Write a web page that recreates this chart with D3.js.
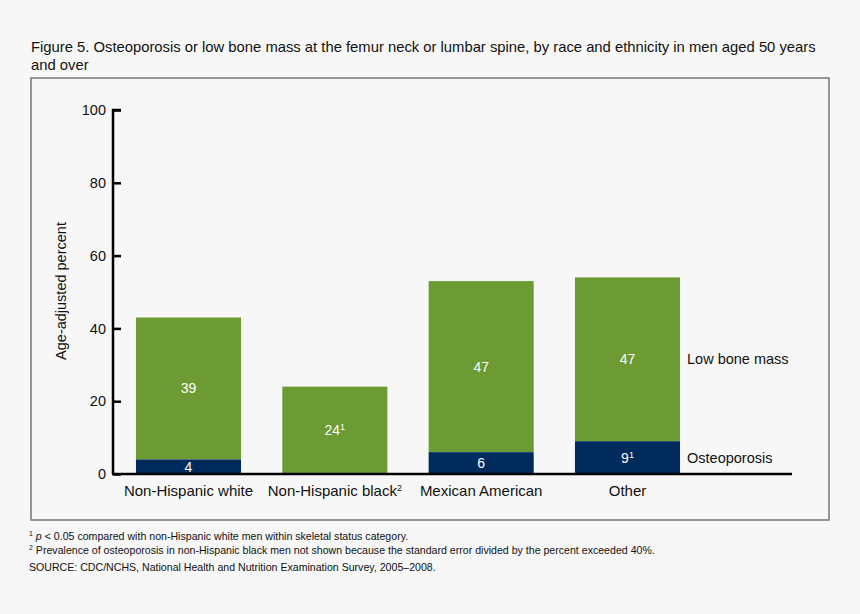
<!DOCTYPE html>
<html>
<head>
<meta charset="utf-8">
<script src="https://cdn.jsdelivr.net/npm/d3@7"></script>
<style>
  body { margin: 0; background: #f7f7f7; font-family: "Liberation Sans", Arial, sans-serif; }
</style>
</head>
<body>
<div id="chart"></div>
<script>
const categories = ['Non-Hispanic white', 'Non-Hispanic black', 'Mexican American', 'Other'];
const categorySup = ['', '2', '', ''];
const osteoporosis = [4, 0, 6, 9];
const lowBoneMass = [39, 24, 47, 45];
const osteoLabels = ['4', '', '6', '9'];
const osteoSup = ['', '', '', '1'];
const lowLabels = ['39', '24', '47', '47'];
const lowSup = ['', '1', '', ''];
const yTicks = [0, 20, 40, 60, 80, 100];
const seriesNames = ['Low bone mass', 'Osteoporosis'];

const width = 860, height = 614;
const green = '#6b9b32', navy = '#002b5c';

const svg = d3.select('#chart').append('svg')
    .attr('width', width).attr('height', height)
    .style('font-family', '"Liberation Sans", Arial, sans-serif');

svg.append('rect').attr('width', width).attr('height', height).attr('fill', '#f7f7f7');

// title
const title = svg.append('text').attr('x', 31).attr('y', 52).attr('font-size', 14.8).attr('fill', '#111');
title.append('tspan').attr('x', 31).text('Figure 5. Osteoporosis or low bone mass at the femur neck or lumbar spine, by race and ethnicity in men aged 50 years');
title.append('tspan').attr('x', 31).attr('dy', 17.5).text('and over');

// frame
svg.append('rect').attr('x', 31).attr('y', 78).attr('width', 798).attr('height', 442)
    .attr('fill', 'none').attr('stroke', '#777').attr('stroke-width', 1.5);

const y = d3.scaleLinear().domain([0, 100]).range([474, 110]);
const x = d3.scaleBand().domain(categories).range([113, 703]).paddingInner(0.282).paddingOuter(0.157);

// bars
const g = svg.append('g');
g.selectAll('.low').data(categories).enter().append('rect')
    .attr('x', d => x(d)).attr('width', x.bandwidth())
    .attr('y', (d, i) => y(osteoporosis[i] + lowBoneMass[i]))
    .attr('height', (d, i) => y(osteoporosis[i]) - y(osteoporosis[i] + lowBoneMass[i]))
    .attr('fill', green);
g.selectAll('.ost').data(categories).enter().append('rect')
    .attr('x', d => x(d)).attr('width', x.bandwidth())
    .attr('y', (d, i) => y(osteoporosis[i]))
    .attr('height', (d, i) => y(0) - y(osteoporosis[i]))
    .attr('fill', navy);

function valueLabel(sel, text, sup) {
    sel.append('tspan').text(text);
    if (sup) sel.append('tspan').attr('font-size', 9).attr('dy', -5).text(sup);
}

categories.forEach((c, i) => {
    const cx = x(c) + x.bandwidth() / 2;
    const lt = svg.append('text').attr('x', cx)
        .attr('y', (y(osteoporosis[i]) + y(osteoporosis[i] + lowBoneMass[i])) / 2 + 5)
        .attr('text-anchor', 'middle').attr('font-size', 14).attr('fill', '#fff');
    valueLabel(lt, lowLabels[i], lowSup[i]);
    if (osteoLabels[i]) {
        const ot = svg.append('text').attr('x', cx)
            .attr('y', (y(0) + y(osteoporosis[i])) / 2 + 5)
            .attr('text-anchor', 'middle').attr('font-size', 14).attr('fill', '#fff');
        valueLabel(ot, osteoLabels[i], osteoSup[i]);
    }
    const xt = svg.append('text').attr('x', cx).attr('y', 496)
        .attr('text-anchor', 'middle').attr('font-size', 15).attr('fill', '#111');
    valueLabel(xt, c, categorySup[i]);
});

// y axis
const yAxis = d3.axisRight(y).tickValues(yTicks).tickSize(8);
const ya = svg.append('g').attr('transform', 'translate(113,0)').call(yAxis);
ya.select('.domain').attr('stroke', '#000').attr('stroke-width', 2.5).attr('d', 'M8,110H0V474');
ya.selectAll('.tick line').attr('stroke', '#000').attr('stroke-width', 2.5);
ya.selectAll('.tick text').attr('text-anchor', 'end').attr('x', -7)
    .attr('font-size', 14.5).attr('fill', '#111').attr('font-family', '"Liberation Sans", Arial, sans-serif');

// x baseline
svg.append('line').attr('x1', 112).attr('x2', 792).attr('y1', y(0)).attr('y2', y(0))
    .attr('stroke', '#000').attr('stroke-width', 2.5);

// y label
svg.append('text').attr('transform', 'translate(66,291) rotate(-90)')
    .attr('text-anchor', 'middle').attr('font-size', 14.5).attr('fill', '#111')
    .text('Age-adjusted percent');

// legend labels next to last bar
const last = categories.length - 1;
const lx = x(categories[last]) + x.bandwidth() + 7;
svg.append('text').attr('x', lx)
    .attr('y', (y(osteoporosis[last]) + y(osteoporosis[last] + lowBoneMass[last])) / 2 + 5)
    .attr('font-size', 14.5).attr('fill', '#111').text(seriesNames[0]);
svg.append('text').attr('x', lx)
    .attr('y', (y(0) + y(osteoporosis[last])) / 2 + 5)
    .attr('font-size', 14.5).attr('fill', '#111').text(seriesNames[1]);

// footnotes
const fn = svg.append('g').attr('font-size', 10.6).attr('fill', '#111');
const f1 = fn.append('text').attr('x', 29).attr('y', 540);
f1.append('tspan').attr('font-size', 7).attr('dy', -4).text('1');
f1.append('tspan').attr('dy', 4).text(' ');
f1.append('tspan').attr('font-style', 'italic').text('p');
f1.append('tspan').text(' < 0.05 compared with non-Hispanic white men within skeletal status category.');
const f2 = fn.append('text').attr('x', 29).attr('y', 554);
f2.append('tspan').attr('font-size', 7).attr('dy', -4).text('2');
f2.append('tspan').attr('dy', 4).text(' Prevalence of osteoporosis in non-Hispanic black men not shown because the standard error divided by the percent exceeded 40%.');
fn.append('text').attr('x', 29).attr('y', 571).text('SOURCE: CDC/NCHS, National Health and Nutrition Examination Survey, 2005\u20132008.');
</script>
</body>
</html>
